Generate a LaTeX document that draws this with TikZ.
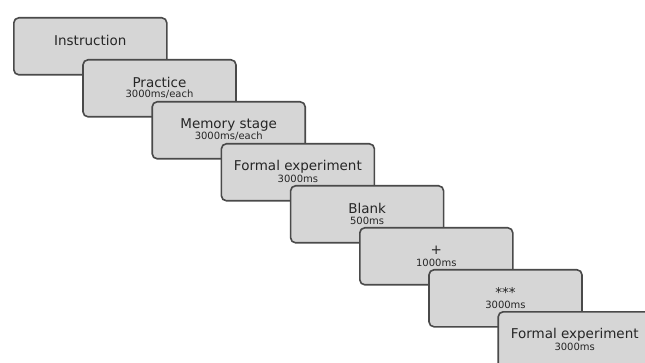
\documentclass[tikz,border=0pt]{standalone}
\usepackage{fontspec}
\setmainfont{DejaVu Sans}
\usetikzlibrary{positioning}

\definecolor{slidefill}{HTML}{D6D6D6}
\definecolor{slideline}{HTML}{4A4A4A}

\tikzset{
    slide/.style={draw=slideline, fill=slidefill, line width=1.6pt, rounded corners=5pt,
        minimum width=153pt, minimum height=57pt, inner sep=0pt, anchor=north west},
    slidetitle/.style={font=\fontsize{13.5}{13.5}\selectfont, inner sep=0pt, text=black!85},
    slidetime/.style={font=\fontsize{10}{10}\selectfont, inner sep=0pt, text=black!85}
}

\begin{document}
\begin{tikzpicture}[x=1pt,y=-1pt]
        \useasboundingbox (0,0) rectangle (645,363);

        % slides, each one shifted right and down
        \foreach \name/\ttl/\dur [count=\i from 0] in {%
            instr/Instruction/{},
            practice/Practice/{3000ms/each},
            memory/Memory stage/{3000ms/each},
            formal/Formal experiment/{3000ms},
            blank/Blank/{500ms},
            fix/+/{1000ms},
            stim/***/{3000ms},
            formalb/Formal experiment/{3000ms}}
        {
            \node[slide] (\name) at ({13+69.2*\i},{17+42*\i}) {};
            \node[slidetitle] (\name-title) at ([yshift=-23.5pt]\name.north) {\ttl};
            \node[slidetime] (\name-time) at ([yshift=-35.5pt]\name.north) {\dur};
        }
\end{tikzpicture}
\end{document}
